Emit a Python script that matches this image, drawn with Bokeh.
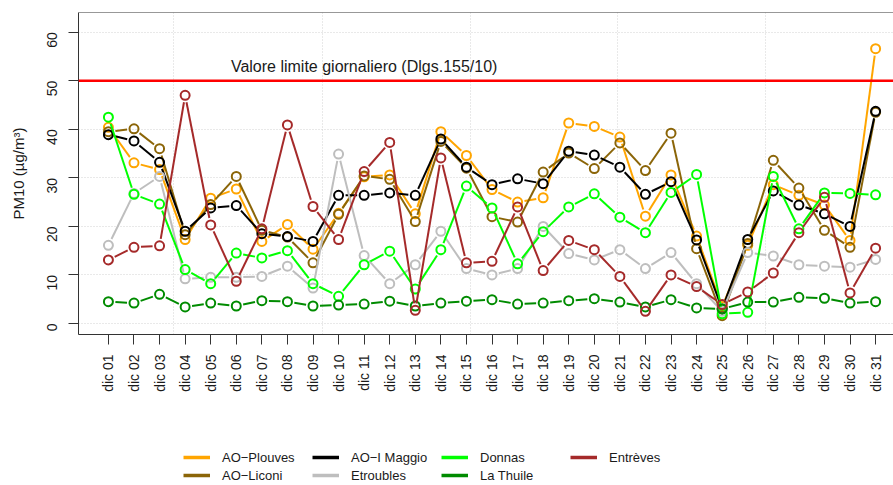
import math
from bokeh.plotting import figure
from bokeh.layouts import column
from bokeh.models import (Range1d, FixedTicker, Span, Label, Legend, LegendItem)
from bokeh.embed import file_html
from bokeh.resources import INLINE

# ---------------- data ----------------
days = list(range(1, 32))
day_labels = ["dic 01", "dic 02", "dic 03", "dic 04", "dic 05", "dic 06", "dic 07",
              "dic 08", "dic 09", "dic 10", "dic 11", "dic 12", "dic 13", "dic 14",
              "dic 15", "dic 16", "dic 17", "dic 18", "dic 19", "dic 20", "dic 21",
              "dic 22", "dic 23", "dic 24", "dic 25", "dic 26", "dic 27", "dic 28",
              "dic 29", "dic 30", "dic 31"]

ao_plouves = [40.4, 33.1, 31.7, 17.3, 25.8, 27.7, 16.9, 20.4, 15.3, 22.7, 30.2, 30.6,
              22.6, 39.5, 34.6, 27.6, 25.0, 25.9, 41.3, 40.6, 38.4, 22.1, 30.6, 18.0,
              3.5, 16.1, 28.6, 26.4, 24.4, 17.1, 56.6]
ao_liconi = [39.5, 40.1, 36.0, 18.3, 24.5, 30.3, 19.2, 17.8, 12.5, 22.5, 30.4, 29.7,
             21.0, 37.5, 32.0, 22.0, 20.9, 31.2, 35.1, 31.9, 37.2, 31.5, 39.2, 15.4,
             1.6, 16.5, 33.6, 27.9, 19.2, 15.7, 43.5]
ao_maggio = [38.9, 37.6, 33.2, 19.0, 23.8, 24.3, 18.5, 17.9, 16.9, 26.4, 26.4, 26.9,
             26.4, 38.0, 32.2, 28.6, 29.8, 28.8, 35.5, 34.7, 32.2, 26.6, 29.2, 17.2,
             3.0, 17.3, 27.3, 24.4, 22.6, 20.0, 43.7]
etroubles = [16.1, 26.8, 30.3, 9.2, 9.5, 9.5, 9.7, 11.8, 7.3, 34.9, 14.0, 8.2,
             12.1, 19.0, 11.3, 10.0, 11.3, 20.0, 14.4, 13.1, 15.2, 11.3, 14.6, 8.2,
             2.5, 14.6, 13.9, 12.1, 11.8, 11.6, 13.2]
donnas = [42.5, 26.6, 24.6, 11.1, 8.2, 14.5, 13.5, 15.0, 8.2, 5.6, 12.1, 14.9,
          7.1, 15.2, 28.3, 23.8, 12.3, 18.9, 24.0, 26.7, 21.9, 18.7, 27.0, 30.7,
          2.0, 2.3, 30.3, 19.5, 26.9, 26.8, 26.5]
la_thuile = [4.5, 4.2, 6.0, 3.4, 4.2, 3.6, 4.7, 4.5, 3.6, 3.8, 4.0, 4.6,
             3.6, 4.2, 4.6, 4.9, 4.0, 4.2, 4.7, 5.1, 4.4, 3.4, 4.9, 3.2,
             3.0, 4.4, 4.4, 5.4, 5.2, 4.2, 4.5]
entreves = [13.1, 15.7, 16.0, 47.0, 20.3, 8.7, 19.5, 40.9, 24.1, 17.3, 31.3, 37.3,
            2.7, 34.1, 12.5, 12.8, 24.0, 10.9, 17.1, 15.2, 9.7, 2.5, 10.0, 7.6,
            3.9, 6.5, 10.4, 18.7, 26.0, 6.3, 15.5]

station_names = ["AO\u2212Plouves", "AO\u2212Liconi", "AO\u2212I Maggio", "Etroubles",
                 "Donnas", "La Thuile", "Entr\u00e8ves"]
station_values = [ao_plouves, ao_liconi, ao_maggio, etroubles, donnas, la_thuile, entreves]
station_colors = ["#FFA500", "#8B6508", "#000000", "#BEBEBE", "#00FF00", "#008B00", "#A52A2A"]

limit_value = 50
limit_text = "Valore limite giornaliero (Dlgs.155/10)"
y_ticks = [0, 10, 20, 30, 40, 50, 60]
xgrid_positions = [3.54, 9.37, 15.16, 20.91, 26.69]

# ---------------- main figure ----------------
X0, X1 = -0.17, 31.70
Y0, Y1 = -2.27, 64.06
FW, FH = 815, 322
FONT = "Liberation Sans"
TXT = "#1a1a1a"

p = figure(frame_width=FW, frame_height=FH,
           x_range=Range1d(X0, X1), y_range=Range1d(Y0, Y1),
           output_backend="svg", toolbar_location=None,
           min_border_left=78, min_border_right=0, min_border_top=12,
           min_border_bottom=66)
p.outline_line_color = None
p.background_fill_color = "white"

# grid
p.ygrid.ticker = FixedTicker(ticks=y_ticks)
p.xgrid.ticker = FixedTicker(ticks=xgrid_positions)
for g in (p.xgrid, p.ygrid):
    g.grid_line_color = "#D3D3D3"
    g.grid_line_dash = "1 2"
    g.grid_line_width = 1

# axes
xa = p.xaxis[0]
xa.ticker = FixedTicker(ticks=days)
xa.major_label_overrides = {d: l for d, l in zip(days, day_labels)}
xa.major_label_orientation = math.pi / 2
xa.major_tick_out = 10
xa.major_tick_in = 0
xa.minor_tick_out = 0
xa.minor_tick_in = 0
xa.major_label_standoff = 10
xa.major_label_text_font = FONT
xa.major_label_text_font_size = "14px"
xa.major_label_text_color = TXT
xa.axis_line_color = "#333333"
xa.major_tick_line_color = "#333333"

ya = p.yaxis[0]
ya.ticker = FixedTicker(ticks=y_ticks)
ya.major_label_orientation = math.pi / 2
ya.major_tick_out = 10
ya.major_tick_in = 0
ya.minor_tick_out = 0
ya.minor_tick_in = 0
ya.major_label_standoff = 16
ya.major_label_text_font = FONT
ya.major_label_text_font_size = "14px"
ya.major_label_text_color = TXT
ya.axis_line_color = "#333333"
ya.major_tick_line_color = "#333333"
ya.axis_label = "PM10 (\u00b5g/m\u00b3)"
ya.axis_label_text_font = FONT
ya.axis_label_text_font_size = "15px"
ya.axis_label_text_font_style = "normal"
ya.axis_label_text_color = TXT
ya.axis_label_standoff = 13

# top frame line
p.add_layout(Span(location=Y1, dimension="width", line_color="#333333", line_width=1))

# limit line and text
p.add_layout(Span(location=limit_value, dimension="width", line_color="#FF0000", line_width=2.5))
p.add_layout(Label(x=11, y=53.0, text=limit_text, text_align="center",
                   text_baseline="middle", text_font=FONT, text_font_size="16px",
                   text_color=TXT))

# series, R type="b" style (lines with gaps around points)
sx = FW / (X1 - X0)
sy = FH / (Y1 - Y0)
GAP = 7.0
for name, vals, col in zip(station_names, station_values, station_colors):
    x0s, y0s, x1s, y1s = [], [], [], []
    for i in range(len(days) - 1):
        xa_, ya_ = days[i], vals[i]
        xb_, yb_ = days[i + 1], vals[i + 1]
        dxp = (xb_ - xa_) * sx
        dyp = (yb_ - ya_) * sy
        L = math.hypot(dxp, dyp)
        if L <= 2 * GAP:
            continue
        t = GAP / L
        x0s.append(xa_ + t * (xb_ - xa_))
        y0s.append(ya_ + t * (yb_ - ya_))
        x1s.append(xb_ - t * (xb_ - xa_))
        y1s.append(yb_ - t * (yb_ - ya_))
    p.segment(x0=x0s, y0=y0s, x1=x1s, y1=y1s, line_color=col, line_width=2)
    p.scatter(x=days, y=vals, marker="circle", size=9, fill_color=None,
              line_color=col, line_width=2)

# ---------------- legend figure ----------------
# The series are repeated here only to give the legend its line glyphs; the
# ranges of this strip exclude them, so nothing but the legend is drawn.
LW, LH = 893, 85
lf = figure(width=LW, height=LH, x_range=Range1d(1000, 1000 + LW),
            y_range=Range1d(1000, 1000 + LH),
            output_backend="svg", toolbar_location=None,
            x_axis_type=None, y_axis_type=None, min_border=0)
lf.outline_line_color = None
lf.grid.visible = False

leg_renderers = {}
for name, vals, col in zip(station_names, station_values, station_colors):
    leg_renderers[name] = lf.line(x=days, y=vals, line_color=col, line_width=3.5)

legend_order = ["AO\u2212Plouves", "AO\u2212I Maggio", "Donnas", "Entr\u00e8ves",
                "AO\u2212Liconi", "Etroubles", "La Thuile"]
items = [LegendItem(label=n, renderers=[leg_renderers[n]]) for n in legend_order]
legend = Legend(items=items, orientation="horizontal", ncols=4,
                location=(105, 2), padding=0, margin=0, spacing=2,
                glyph_width=27, glyph_height=16, label_height=16, label_width=88,
                label_standoff=12, label_text_font=FONT, label_text_font_size="13px",
                label_text_color=TXT, border_line_color=None,
                background_fill_alpha=0)
lf.add_layout(legend, "center")

layout = column(p, lf, spacing=0)
open("out.html", "w").write(file_html(layout, INLINE))
